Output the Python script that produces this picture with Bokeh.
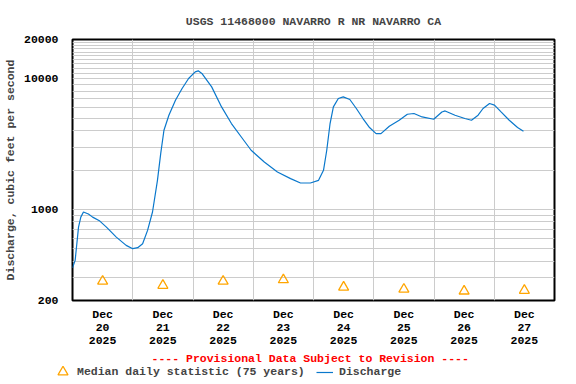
from bokeh.plotting import figure
from bokeh.models import (Range1d, FixedTicker, NumeralTickFormatter, Legend,
                          LegendItem, Label)
from bokeh.embed import file_html
from bokeh.resources import INLINE

# ---- data -------------------------------------------------------------
# time in days since 2025-12-20 00:00, discharge in cubic feet per second
flow_day = [0.0, 0.044, 0.10, 0.138, 0.182, 0.264, 0.334, 0.454, 0.563, 0.727,
            0.891, 1.0, 1.082, 1.164, 1.246, 1.328, 1.41, 1.464, 1.518, 1.60,
            1.709, 1.819, 1.927, 2.037, 2.087, 2.147, 2.31, 2.474, 2.638, 2.802,
            2.965, 3.183, 3.401, 3.62, 3.784, 3.948, 4.084, 4.166, 4.22, 4.275,
            4.33, 4.412, 4.494, 4.603, 4.711, 4.821, 4.93, 5.039, 5.12, 5.258,
            5.422, 5.558, 5.667, 5.803, 5.995, 6.131, 6.185, 6.349, 6.512, 6.622,
            6.732, 6.814, 6.922, 7.004, 7.113, 7.249, 7.387, 7.485]
flow_cfs = [356, 406, 730, 871, 953, 920, 871, 812, 730, 612,
            529, 499, 508, 545, 689, 953, 1667, 2672, 4033, 5260,
            6855, 8430, 10050, 11300, 11500, 10990, 8670, 6090, 4540, 3580,
            2833, 2303, 1931, 1718, 1590, 1590, 1667, 1990, 2833, 4540,
            6090, 7060, 7270, 6940, 5920, 4960, 4230, 3800, 3800, 4330,
            4810, 5350, 5420, 5100, 4900, 5570, 5670, 5260, 4960, 4810,
            5260, 5920, 6470, 6280, 5570, 4810, 4230, 3965]

median_day = [0.5, 1.5, 2.5, 3.5, 4.5, 5.5, 6.5, 7.5]
median_cfs = [281, 261, 281, 288, 253, 244, 236, 239]

day_labels = ["Dec\n20\n2025", "Dec\n21\n2025", "Dec\n22\n2025", "Dec\n23\n2025",
              "Dec\n24\n2025", "Dec\n25\n2025", "Dec\n26\n2025", "Dec\n27\n2025"]
day_bounds = [1, 2, 3, 4, 5, 6, 7]

y_major = [200, 1000, 10000, 20000]
y_minor = [300, 400, 500, 600, 700, 800, 900,
           2000, 3000, 4000, 5000, 6000, 7000, 8000, 9000,
           11000, 12000, 13000, 14000, 15000, 16000, 17000, 18000, 19000]

TITLE = "USGS 11468000 NAVARRO R NR NAVARRO CA"
YLABEL = "Discharge, cubic feet per second"
NOTE = "---- Provisional Data Subject to Revision ----"
MEDIAN_LABEL = "Median daily statistic (75 years)"
FLOW_LABEL = "Discharge"

# ---- styling -----------------------------------------------------------
FONT = "Liberation Mono"
FS = "11.5px"
GRID = "#cccccc"
BLUE = "#0a78cc"
ORANGE = "#ffa500"

# ---- main chart -------------------------------------------------------
p = figure(width=576, height=350, output_backend="svg", toolbar_location=None,
           x_range=Range1d(0, 8), y_range=Range1d(200, 20000), y_axis_type="log",
           min_border_left=65, min_border_top=39, min_border_right=22,
           min_border_bottom=50)

p.title.text = TITLE
p.title.align = "center"
p.title.text_font = FONT
p.title.text_font_size = FS
p.title.text_font_style = "bold"
p.title.standoff = 23

p.outline_line_color = "black"
p.outline_line_width = 2
p.background_fill_color = "white"
p.border_fill_color = "white"

p.xaxis.ticker = FixedTicker(ticks=median_day)
p.xaxis.major_label_overrides = {d: lab for d, lab in zip(median_day, day_labels)}
p.yaxis.ticker = FixedTicker(ticks=y_major, minor_ticks=y_minor)
p.yaxis.formatter = NumeralTickFormatter(format="0")
for ax in (p.xaxis, p.yaxis):
    ax.axis_line_color = None
    ax.major_tick_line_color = None
    ax.minor_tick_line_color = None
    ax.major_label_text_font = FONT
    ax.major_label_text_font_size = FS
    ax.major_label_text_font_style = "bold"
    ax.major_label_text_color = "black"
p.xaxis.major_label_standoff = 1
p.xaxis.major_label_text_line_height = 1.0
p.yaxis.major_label_standoff = 8
p.yaxis.axis_label = YLABEL
p.yaxis.axis_label_text_font = FONT
p.yaxis.axis_label_text_font_size = FS
p.yaxis.axis_label_text_font_style = "bold"
p.yaxis.axis_label_standoff = 4

p.xgrid.ticker = FixedTicker(ticks=day_bounds)
p.xgrid.grid_line_color = GRID
p.ygrid.grid_line_color = GRID
p.ygrid.minor_grid_line_color = GRID

p.line(flow_day, flow_cfs, line_color=BLUE, line_width=1.2)
p.scatter(median_day, median_cfs, marker="triangle", size=10,
          fill_color=None, line_color=ORANGE, line_width=1.3)

# ---- footer strip: provisional note + legend --------------------------
# ranges in pixel-like units; the series lie outside this window so only
# their legend swatches show
f = figure(width=576, height=34, output_backend="svg", toolbar_location=None,
           x_range=Range1d(0, 576), y_range=Range1d(0, 34),
           x_axis_location=None, y_axis_location=None,
           min_border_left=0, min_border_right=0, min_border_top=0,
           min_border_bottom=0)
f.outline_line_color = None
f.grid.visible = False
f.background_fill_color = "white"
f.border_fill_color = "white"

fln = f.line(flow_day, flow_cfs, line_color=BLUE, line_width=1.2)
ftri = f.scatter(median_day, median_cfs, marker="triangle", size=10,
                 fill_color=None, line_color=ORANGE, line_width=1.3)

f.add_layout(Label(x=309.7, y=26, text=NOTE, text_align="center",
                   text_baseline="middle", text_color="red", text_font=FONT,
                   text_font_size=FS, text_font_style="bold"))

common = dict(orientation="horizontal", margin=0, padding=0,
              border_line_color=None, background_fill_alpha=0,
              label_text_font=FONT, label_text_font_size=FS,
              label_text_font_style="bold")
leg1 = Legend(items=[LegendItem(label=MEDIAN_LABEL, renderers=[ftri])],
              location=(50, 0), glyph_width=25, glyph_height=25,
              label_height=25, label_standoff=2, **common)
leg2 = Legend(items=[LegendItem(label=FLOW_LABEL, renderers=[fln])],
              location=(316, 6), glyph_width=17, glyph_height=12,
              label_height=12, label_standoff=6, **common)
f.add_layout(leg1)
f.add_layout(leg2)

open("out.html", "w").write(file_html([p, f], INLINE))
